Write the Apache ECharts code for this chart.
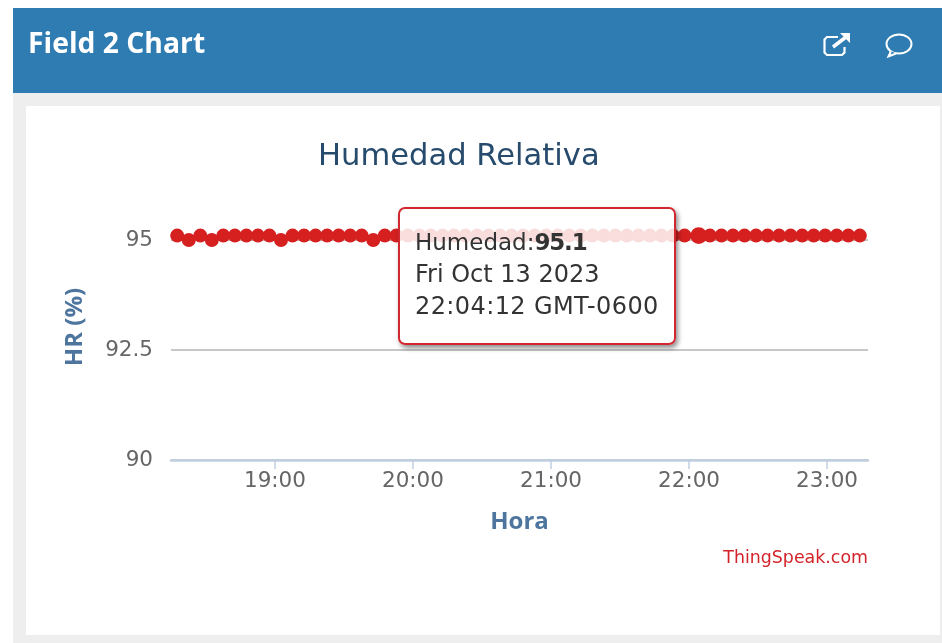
<!DOCTYPE html>
<html>
<head>
<meta charset="utf-8">
<style>html,body{margin:0;padding:0;background:#fff;overflow:hidden}#c{width:942px;height:643px}</style>
<script src="https://cdn.jsdelivr.net/npm/echarts@6/dist/echarts.min.js"></script>
</head>
<body>
<div id="c"></div>
<script>
const times = ["18:17:30","18:22:31","18:27:32","18:32:33","18:37:33","18:42:34","18:47:35","18:52:36","18:57:36","19:02:37",
"19:07:38","19:12:39","19:17:39","19:22:40","19:27:41","19:32:42","19:37:42","19:42:43","19:47:44","19:52:45",
"19:57:45","20:02:46","20:07:47","20:12:48","20:17:48","20:22:49","20:27:50","20:32:51","20:37:51","20:42:52",
"20:47:53","20:52:54","20:57:54","21:02:55","21:07:56","21:12:57","21:17:57","21:22:58","21:27:59","21:33:00",
"21:38:00","21:43:01","21:48:02","21:53:03","21:58:03","22:04:12","22:09:05","22:14:06","22:19:06","22:24:07",
"22:29:08","22:34:09","22:39:09","22:44:10","22:49:11","22:54:12","22:59:12","23:04:13","23:09:14","23:14:15"];
const humidity = [95.1,95.0,95.1,95.0,95.1,95.1,95.1,95.1,95.1,95.0,
95.1,95.1,95.1,95.1,95.1,95.1,95.1,95.0,95.1,95.1,
95.1,95.1,95.1,95.1,95.1,95.1,95.1,95.1,95.1,95.1,
95.1,95.1,95.1,95.1,95.1,95.1,95.1,95.1,95.1,95.1,
95.1,95.1,95.1,95.1,95.1,95.1,95.1,95.1,95.1,95.1,
95.1,95.1,95.1,95.1,95.1,95.1,95.1,95.1,95.1,95.1];
const yTicks = [90, 92.5, 95];
const day = "2023-10-13 ";
const FONT = '"DejaVu Sans", sans-serif';
const BOLDFONT = '"Open Sans", sans-serif';

const chart = echarts.init(document.getElementById('c'), null, {renderer:'canvas'});
chart.setOption({
  animation:false,
  backgroundColor:'#fff',
  title:{text:'Humedad Relativa',left:313,top:137,
    textStyle:{color:'#274b6d',fontSize:30.6,fontWeight:'normal',fontFamily:FONT}},
  grid:{left:171,right:74,top:240,bottom:183,containLabel:false},
  xAxis:{type:'time',
    min:day+"18:14:48",max:day+"23:17:48",
    minInterval:3600000,maxInterval:3600000,
    axisLine:{lineStyle:{color:'#c0d0e0',width:2.5}},
    axisTick:{show:true,length:9,lineStyle:{color:'#c0d0e0',width:1.5}},
    splitLine:{show:false},
    axisLabel:{formatter:'{HH}:{mm}',color:'#666',fontSize:21.5,fontFamily:FONT,margin:10,
      showMinLabel:false,showMaxLabel:false,hideOverlap:false},
    name:'Hora',nameLocation:'middle',nameGap:50,
    nameTextStyle:{color:'#4d759e',fontSize:24,fontWeight:'bold',fontFamily:BOLDFONT}},
  yAxis:{type:'value',min:yTicks[0],max:yTicks[2],interval:2.5,
    axisLine:{show:false},axisTick:{show:false},
    splitLine:{lineStyle:{color:'#c8c8c8',width:2}},
    axisLabel:{formatter:v=>String(v),color:'#666',fontSize:21.5,fontFamily:FONT,margin:18},
    name:'HR (%)',nameLocation:'middle',nameGap:84,nameRotate:90,
    nameTextStyle:{color:'#4d759e',fontSize:24,fontWeight:'bold',fontFamily:BOLDFONT,padding:[0,0,0,46]}},
  tooltip:{trigger:'item',alwaysShowContent:true,showContent:true,transitionDuration:0,
    position:[398,207],
    backgroundColor:'rgba(255,255,255,0.85)',borderColor:'#d0282e',borderWidth:2,padding:0,
    extraCssText:'border-radius:7px;box-shadow:2px 3px 5px rgba(0,0,0,.45);width:274px;height:134px;box-sizing:content-box;',
    formatter:p=>{
      return '<div style="padding:17px 15px;font:24px/32px \'DejaVu Sans\',sans-serif;color:#333;white-space:nowrap">'
      +'<span style="font-size:23px">Humedad:</span><b style="font-size:23px;letter-spacing:-1.2px">'+p.value[1]+'</b><br>Fri Oct 13 2023<br><span style="letter-spacing:.4px">22:04:12 GMT-0600</span></div>';
    }},
  series:[{type:'line',name:'Humedad',
    data:times.map((t,i)=>[day+t,humidity[i]]),
    clip:false,
    showSymbol:true,showAllSymbol:true,symbol:'circle',symbolSize:14,
    lineStyle:{color:'#d62020',width:5},
    itemStyle:{color:'#d62020'},
    emphasis:{scale:1.2,itemStyle:{color:'#d62020'}},
    z:3}],
  graphic:[
    {type:'rect',z:-10,shape:{x:13,y:93,width:929,height:550},style:{fill:'#eeeeee'}},
    {type:'rect',z:-9,shape:{x:26,y:106,width:914,height:529},style:{fill:'#ffffff'}},
    {type:'rect',z:-8,shape:{x:13,y:8,width:929,height:85},style:{fill:'#2e7cb2'}},
    {type:'text',z:10,style:{x:28,y:45,text:'Field 2 Chart',fill:'#fff',font:'bold 28.3px "Open Sans", sans-serif',textVerticalAlign:'middle'}},
    {type:'polyline',z:10,shape:{points:[[838,37],[827,37],[824.5,39.5],[824.5,52.5],[827,55],[842,55],[844.5,52.5],[844.5,47]]},style:{stroke:'#fff',lineWidth:2.2,fill:null}},
    {type:'line',z:10,shape:{x1:833,y1:47,x2:846,y2:37},style:{stroke:'#fff',lineWidth:3.5}},
    {type:'polygon',z:10,shape:{points:[[840,33],[850,33],[850,43]]},style:{fill:'#fff'}},
    {type:'ellipse',z:10,shape:{cx:899,cy:44,rx:12.5,ry:9.5},style:{stroke:'#fff',lineWidth:2,fill:null}},
    {type:'polyline',z:10,shape:{points:[[891,51],[888.5,56.5],[896,53.5]]},style:{stroke:'#fff',lineWidth:2,fill:'#2e7cb2'}},
    {type:'text',z:10,style:{x:868,y:558,text:'ThingSpeak.com',fill:'#d4242a',font:'17.4px "DejaVu Sans", sans-serif',textAlign:'right',textVerticalAlign:'middle'}}
  ]
});
chart.dispatchAction({type:'highlight',seriesIndex:0,dataIndex:45});
chart.dispatchAction({type:'showTip',seriesIndex:0,dataIndex:45});
</script>
</body>
</html>
